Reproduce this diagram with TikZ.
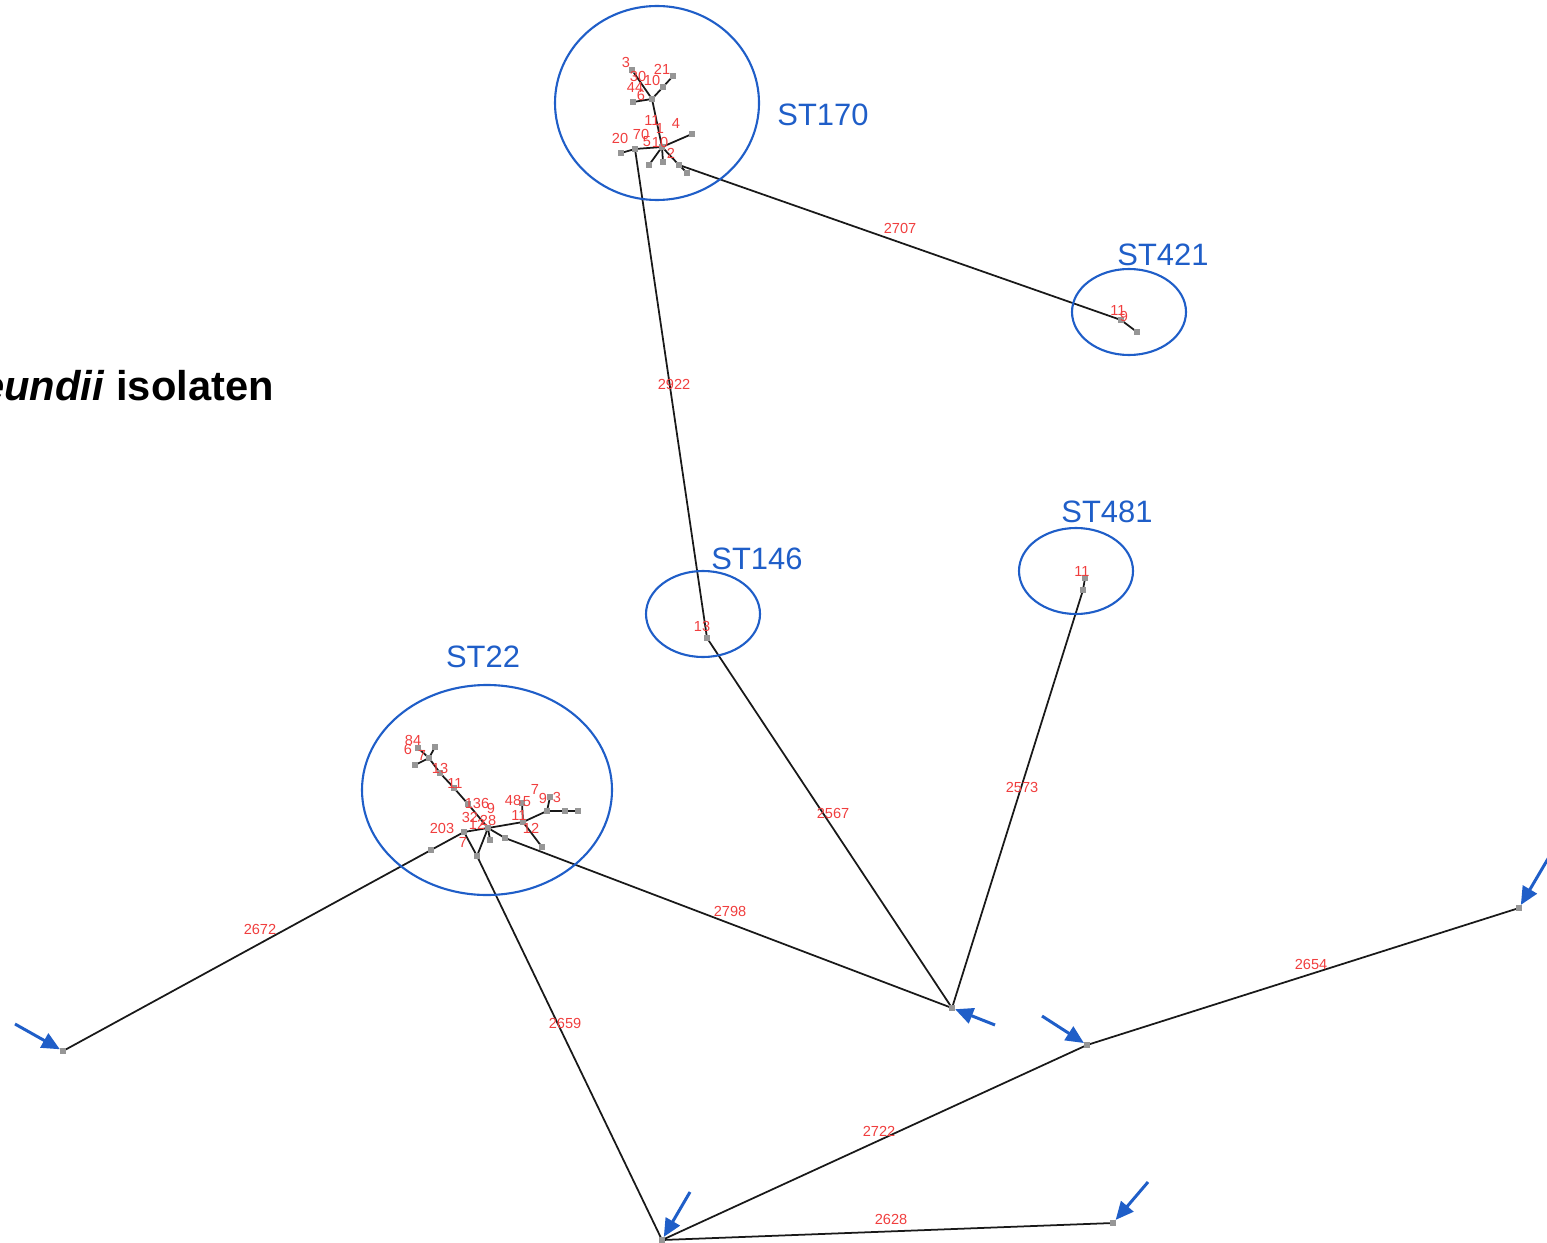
\documentclass[tikz,border=0pt]{standalone}
\usepackage{fontspec}
\setmainfont{Liberation Sans}
\usetikzlibrary{arrows.meta}
\definecolor{lblred}{RGB}{240,62,62}
\definecolor{ringblue}{RGB}{31,94,200}
\definecolor{dotgray}{RGB}{150,150,150}
\tikzset{
  tree/.style={line width=1pt, black!90},
  dot/.style={rectangle, fill=dotgray, inner sep=0pt, minimum size=0.11cm},
  num/.style={text=lblred, font=\fontsize{8.3}{9}\selectfont, inner sep=0pt},
  ring/.style={draw=ringblue, line width=1.2pt},
  stname/.style={text=ringblue, font=\fontsize{17.6}{20}\selectfont, inner sep=0pt},
  pointer/.style={draw=ringblue, line width=1.7pt, -{Triangle[length=0.36cm,width=0.32cm]}},
}
\begin{document}
\begin{tikzpicture}[x=0.02cm,y=-0.02cm]
\useasboundingbox (0,0) rectangle (1547,1243);
\clip (0,0) rectangle (1547,1243);

% title, running off the left edge
\node[anchor=base east, inner sep=0pt, font=\fontsize{23.7}{26}\selectfont\bfseries] (title) at (274,400)
  {\textit{Citrobacter freundii} isolaten};

% ---------- tree positions ----------
% ST170 group
\coordinate (b3) at (632,70);
\coordinate (hB) at (652,99);
\coordinate (b21) at (673,76);
\coordinate (b21m) at (663,87);
\coordinate (b6) at (633,102);
\coordinate (hA) at (662,147);
\coordinate (a4) at (692,134);
\coordinate (a20m) at (635,149);
\coordinate (a20) at (621,153);
\coordinate (a1) at (649,165);
\coordinate (a2) at (663,162);
\coordinate (a5) at (679,165);
\coordinate (a6) at (687,173);
% ST421
\coordinate (s421a) at (1121,320);
\coordinate (s421b) at (1137,332);
% ST146
\coordinate (s146) at (707,638);
% ST481
\coordinate (s481a) at (1085,578);
\coordinate (s481b) at (1083,590);
% ST22 group
\coordinate (c84) at (418,748);
\coordinate (cJ) at (429,758);
\coordinate (c6) at (435,747);
\coordinate (c7) at (415,765);
\coordinate (c13) at (440,773);
\coordinate (c11) at (454,788);
\coordinate (c136) at (468,804);
\coordinate (hC) at (488,828);
\coordinate (cL) at (464,832);
\coordinate (cLL) at (431,850);
\coordinate (cLow) at (477,856);
\coordinate (cDn) at (490,840);
\coordinate (cR) at (505,838);
\coordinate (hD) at (523,822);
\coordinate (c48) at (522,803);
\coordinate (c12) at (542,847);
\coordinate (hE) at (547,811);
\coordinate (c9) at (550,797);
\coordinate (c3a) at (565,811);
\coordinate (c3b) at (578,811);
% outer isolates
\coordinate (P) at (952,1008);
\coordinate (Q) at (63,1051);
\coordinate (R) at (662,1240);
\coordinate (S) at (1087,1045);
\coordinate (T) at (1519,908);
\coordinate (U) at (1113,1223);

% ---------- edges ----------
\draw[tree] (b3) -- (hB);
\draw[tree] (b21) -- (b21m) -- (hB);
\draw[tree] (b6) -- (hB);
\draw[tree] (hB) -- (hA);
\draw[tree] (hA) -- (a4);
\draw[tree] (hA) -- (a20m) -- (a20);
\draw[tree] (hA) -- (a1);
\draw[tree] (hA) -- (a2);
\draw[tree] (hA) -- (a5) -- (a6);
\draw[tree] (a5) -- (s421a) -- (s421b);
\draw[tree] (a20m) -- (s146);
\draw[tree] (s146) -- (P);
\draw[tree] (s481a) -- (s481b) -- (P);
\draw[tree] (c84) -- (cJ);
\draw[tree] (cJ) -- (c6);
\draw[tree] (cJ) -- (c7);
\draw[tree] (cJ) -- (c13) -- (c11) -- (c136) -- (hC);
\draw[tree] (hC) -- (cL) -- (cLL) -- (Q);
\draw[tree] (cL) -- (cLow);
\draw[tree] (hC) -- (cLow);
\draw[tree] (cLow) -- (R);
\draw[tree] (hC) -- (cDn);
\draw[tree] (hC) -- (cR) -- (P);
\draw[tree] (hC) -- (hD);
\draw[tree] (hD) -- (c48);
\draw[tree] (hD) -- (c12);
\draw[tree] (hD) -- (hE);
\draw[tree] (hE) -- (c9);
\draw[tree] (hE) -- (c3a) -- (c3b);
\draw[tree] (R) -- (S);
\draw[tree] (S) -- (T);
\draw[tree] (R) -- (U);

% ---------- isolate dots ----------
\foreach \p in {b3,hB,b21,b21m,b6,hA,a4,a20m,a20,a1,a2,a5,a6,s421a,s421b,s146,s481a,s481b,
  c84,cJ,c6,c7,c13,c11,c136,hC,cL,cLL,cLow,cDn,cR,hD,c48,c12,hE,c9,c3a,c3b,P,Q,R,S,T,U}
  \node[dot] (d-\p) at (\p) {};

% ---------- distance labels ----------
\node[num] (e2707) at (900,228) {2707};
\node[num] (e2922) at (674,384) {2922};
\node[num] (e2567) at (833,813) {2567};
\node[num] (e2573) at (1022,787) {2573};
\node[num] (e2798) at (730,911) {2798};
\node[num] (e2672) at (260,929) {2672};
\node[num] (e2659) at (565,1023) {2659};
\node[num] (e2722) at (879,1131) {2722};
\node[num] (e2654) at (1311,964) {2654};
\node[num] (e2628) at (891,1219) {2628};

% ST170 short distances
\node[num] (k1) at (626,62) {3};
\node[num] (k2) at (638,76) {30};
\node[num] (k3) at (652,80) {10};
\node[num] (k4) at (662,69) {21};
\node[num] (k5) at (635,87) {44};
\node[num] (k6) at (641,95) {6};
\node[num] (k7) at (652,120) {11};
\node[num] (k8) at (660,128) {1};
\node[num] (k9) at (676,123) {4};
\node[num] (k10) at (620,138) {20};
\node[num] (k11) at (641,134) {70};
\node[num] (k12) at (647,142) {5};
\node[num] (k13) at (660,142) {10};
\node[num] (k14) at (671,153) {2};
% ST421 / ST146 / ST481
\node[num] (k15) at (1118,310) {11};
\node[num] (k16) at (1124,316) {9};
\node[num] (k17) at (702,626) {13};
\node[num] (k18) at (1082,571) {11};
% ST22 short distances
\node[num] (m1) at (413,740) {84};
\node[num] (m2) at (408,749) {6};
\node[num] (m3) at (422,755) {7};
\node[num] (m4) at (440,768) {13};
\node[num] (m5) at (455,783) {11};
\node[num] (m6) at (477,803) {136};
\node[num] (m7) at (491,808) {9};
\node[num] (m8) at (466,817) {3};
\node[num] (m9) at (474,817) {2};
\node[num] (m10) at (477,824) {12};
\node[num] (m11) at (488,820) {28};
\node[num] (m12) at (442,828) {203};
\node[num] (m13) at (463,842) {7};
\node[num] (m14) at (513,800) {48};
\node[num] (m15) at (527,802) {5};
\node[num] (m16) at (535,789) {7};
\node[num] (m17) at (543,798) {9};
\node[num] (m18) at (557,797) {3};
\node[num] (m19) at (519,815) {11};
\node[num] (m20) at (531,828) {12};

% ---------- sequence-type rings ----------
\draw[ring] (657,103) ellipse [x radius=102, y radius=97];
\draw[ring] (1129,312) ellipse [x radius=57, y radius=43];
\draw[ring] (703,614) ellipse [x radius=57, y radius=43];
\draw[ring] (1076,571) ellipse [x radius=57, y radius=43];
\draw[ring] (487,790) ellipse [x radius=125, y radius=105];

\node[stname] (n170) at (823,115) {ST170};
\node[stname] (n421) at (1163,255) {ST421};
\node[stname] (n481) at (1107,512) {ST481};
\node[stname] (n146) at (757,559) {ST146};
\node[stname] (n22) at (483,657) {ST22};

% ---------- pointers to single isolates ----------
\coordinate (tQ) at (15,1024);
\coordinate (tP) at (995,1025);
\coordinate (tS) at (1042,1016);
\coordinate (tR) at (690,1192);
\coordinate (tT) at (1549,857);
\coordinate (tU) at (1148,1182);
\draw[pointer] (tQ) -- (d-Q);
\draw[pointer] (tP) -- (d-P);
\draw[pointer] (tS) -- (d-S);
\draw[pointer] (tR) -- (d-R);
\draw[pointer] (tT) -- (d-T);
\draw[pointer] (tU) -- (d-U);
\end{tikzpicture}
\end{document}
